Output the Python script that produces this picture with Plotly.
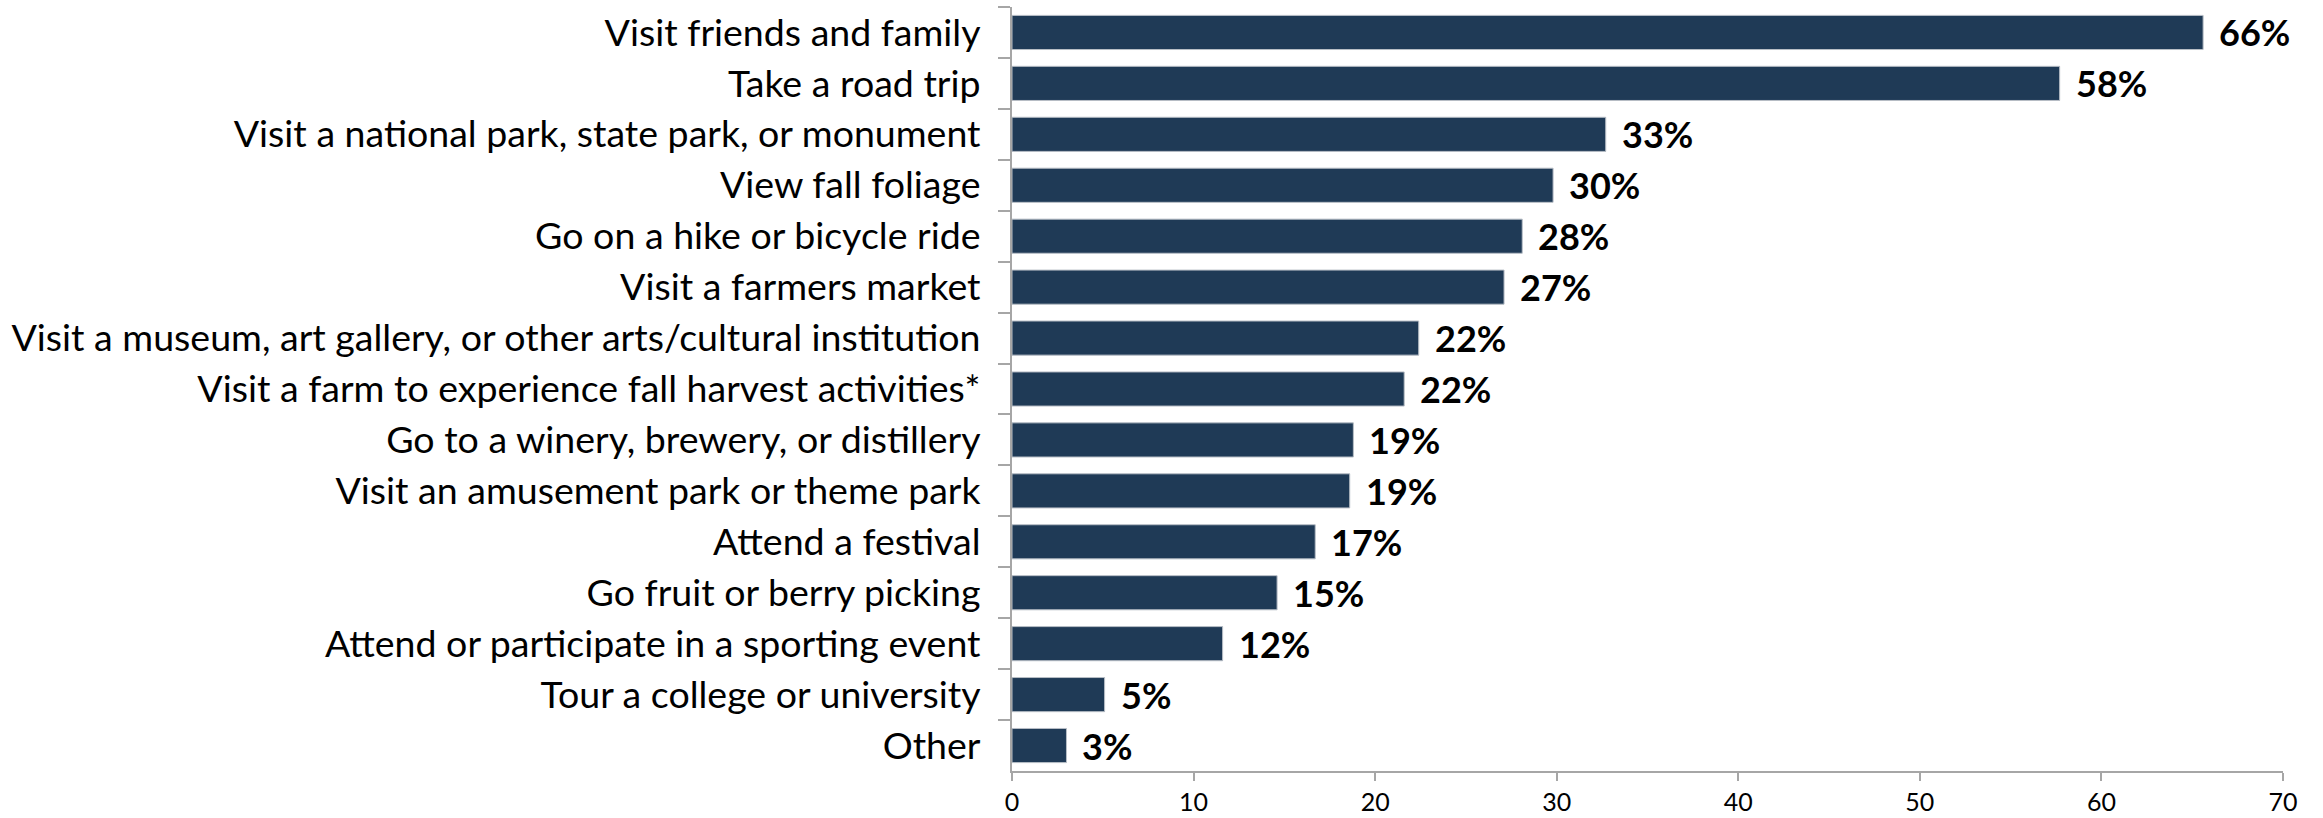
import plotly.graph_objects as go

# Fall travel activities, share of respondents (%)
activities = [
    "Visit friends and family",
    "Take a road trip",
    "Visit a national park, state park, or monument",
    "View fall foliage",
    "Go on a hike or bicycle ride",
    "Visit a farmers market",
    "Visit a museum, art gallery, or other arts/cultural institution",
    "Visit a farm to experience fall harvest activities*",
    "Go to a winery, brewery, or distillery",
    "Visit an amusement park or theme park",
    "Attend a festival",
    "Go fruit or berry picking",
    "Attend or participate in a sporting event",
    "Tour a college or university",
    "Other",
]
shares = [65.6, 57.7, 32.7, 29.8, 28.1, 27.1, 22.4, 21.6, 18.8, 18.6, 16.7, 14.6, 11.6, 5.1, 3.0]
x_ticks = [0, 10, 20, 30, 40, 50, 60, 70]

BAR_COLOR = "#1F3A56"
AXIS_COLOR = "#A6A6A6"

fig = go.Figure()
fig.add_trace(go.Bar(
    x=shares,
    y=activities,
    orientation="h",
    marker=dict(color=BAR_COLOR, line=dict(color="#B8BEC6", width=1)),
    hoverinfo="x+y",
))

# Value labels to the right of each bar
for name, val in zip(activities, shares):
    fig.add_annotation(
        x=val, y=name, xref="x", yref="y",
        text=f"<b>{val:.0f}%</b>",
        showarrow=False, xanchor="left", yanchor="middle",
        xshift=14,
        font=dict(family="Lato", size=36, color="#000000"),
    )

fig.update_layout(
    width=2323, height=818,
    margin=dict(l=1012, r=40, t=7, b=47),
    paper_bgcolor="white", plot_bgcolor="white",
    bargap=0.33,
    showlegend=False,
    font=dict(family="Lato", color="#000000"),
)
fig.update_xaxes(
    range=[0, 70], tickvals=x_ticks,
    automargin=False,
    showgrid=False, zeroline=False,
    showline=True, linecolor=AXIS_COLOR, linewidth=2,
    ticks="outside", ticklen=8, tickwidth=2, tickcolor=AXIS_COLOR,
    tickfont=dict(family="Lato", size=25, color="#000000"),
)
fig.update_yaxes(
    categoryorder="array", categoryarray=activities,
    autorange="reversed",
    automargin=False,
    showgrid=False, zeroline=False,
    showline=True, linecolor=AXIS_COLOR, linewidth=2,
    ticks="outside", ticklen=12, tickwidth=2, tickcolor=AXIS_COLOR,
    tickson="boundaries",
    tickfont=dict(family="Lato", size=37.5, color="#000000"),
    ticklabelstandoff=22,
)

fig.write_html("out.html")
